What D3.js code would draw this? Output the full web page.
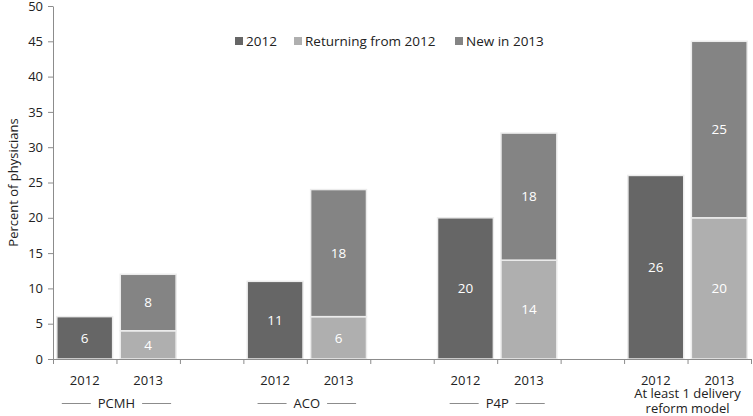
<!DOCTYPE html>
<html>
<head>
<meta charset="utf-8">
<script src="https://cdn.jsdelivr.net/npm/d3@7/dist/d3.min.js"></script>
<style>
  body { margin: 0; background: #fff; }
  text { font-family: "Open Sans", sans-serif; }
</style>
</head>
<body>
<script>
// DATA
var groups = ["PCMH", "ACO", "P4P", "At least 1 delivery reform model"];
var years = ["2012", "2013"];
var val2012 = [6, 11, 20, 26];
var returning = [4, 6, 14, 20];
var newIn2013 = [8, 18, 18, 25];
var yTicks = [0, 5, 10, 15, 20, 25, 30, 35, 40, 45, 50];
var legendLabels = ["2012", "Returning from 2012", "New in 2013"];

var w = 753, h = 416;
var margin = {top: 6, right: 2, bottom: 57, left: 53};

var col2012 = "#666666", colRet = "#afafaf", colNew = "#848484";

var svg = d3.select("body").append("svg")
  .attr("width", w)
  .attr("height", h);

// slots: 2012, 2013, gap for each group (no trailing gap)
var slots = [];
groups.forEach(function(g, i) {
  slots.push(i + "-2012");
  slots.push(i + "-2013");
  if (i < groups.length - 1) slots.push(i + "-gap");
});

var x = d3.scaleBand()
  .domain(slots)
  .range([margin.left, w - margin.right])
  .paddingInner(0.12)
  .paddingOuter(0.06);

var xEdge = d3.scaleLinear()
  .domain([0, slots.length])
  .range([margin.left, w - margin.right]);

var y = d3.scaleLinear()
  .domain([0, 50])
  .range([h - margin.bottom, margin.top]);

// Y AXIS
var yAxis = svg.append("g")
  .attr("transform", "translate(" + margin.left + ",0)")
  .call(d3.axisLeft(y).tickValues(yTicks).tickSize(5).tickSizeOuter(0));
yAxis.select(".domain").attr("stroke", "#8c8c8c");
yAxis.selectAll(".tick line").attr("stroke", "#8c8c8c");
yAxis.selectAll(".tick text")
  .attr("x", -10)
  .attr("fill", "#222")
  .style("font-size", "13px");

svg.append("text")
  .attr("transform", "translate(13," + y(25) + ") rotate(-90)")
  .attr("text-anchor", "middle")
  .attr("dy", "0.35em")
  .attr("fill", "#222")
  .style("font-size", "13px")
  .text("Percent of physicians");

// BARS
var segs = [];
groups.forEach(function(g, i) {
  segs.push({slot: i + "-2012", y0: 0, y1: val2012[i], v: val2012[i], c: col2012});
  segs.push({slot: i + "-2013", y0: 0, y1: returning[i], v: returning[i], c: colRet});
  segs.push({slot: i + "-2013", y0: returning[i], y1: returning[i] + newIn2013[i], v: newIn2013[i], c: colNew});
});

svg.append("g").selectAll("rect")
  .data(segs)
  .enter().append("rect")
  .attr("x", function(d) { return x(d.slot); })
  .attr("y", function(d) { return y(d.y1); })
  .attr("width", x.bandwidth())
  .attr("height", function(d) { return y(d.y0) - y(d.y1); })
  .attr("fill", function(d) { return d.c; })
  .attr("stroke", "#ececec")
  .attr("stroke-width", 1.5);

svg.append("g").selectAll("text")
  .data(segs)
  .enter().append("text")
  .attr("x", function(d) { return x(d.slot) + x.bandwidth() / 2; })
  .attr("y", function(d) { return (y(d.y0) + y(d.y1)) / 2; })
  .attr("dy", "0.36em")
  .attr("text-anchor", "middle")
  .attr("fill", "#fff")
  .style("font-size", "13.5px")
  .text(function(d) { return d.v; });

// X AXIS
var xAxis = svg.append("g")
  .attr("transform", "translate(0," + y(0) + ")")
  .call(d3.axisBottom(xEdge).tickValues(d3.range(0, slots.length + 1)).tickFormat("").tickSize(5).tickSizeOuter(0));
xAxis.select(".domain").attr("stroke", "#8c8c8c");
xAxis.selectAll(".tick line").attr("stroke", "#8c8c8c");

groups.forEach(function(g, i) {
  years.forEach(function(yr) {
    svg.append("text")
      .attr("x", x(i + "-" + yr) + x.bandwidth() / 2)
      .attr("y", y(0) + 26)
      .attr("text-anchor", "middle")
      .attr("fill", "#222")
      .style("font-size", "13px")
      .text(yr);
  });
});

// group labels with side lines
groups.forEach(function(g, i) {
  var cx = xEdge(i * 3 + 1);
  if (i < groups.length - 1) {
    var t = svg.append("text")
      .attr("x", cx)
      .attr("y", y(0) + 49)
      .attr("text-anchor", "middle")
      .attr("fill", "#222")
      .style("font-size", "13px")
      .text(g);
    var bw = t.node().getComputedTextLength();
    var ly = y(0) + 44.5;
    svg.append("line")
      .attr("x1", cx - bw / 2 - 36).attr("x2", cx - bw / 2 - 7)
      .attr("y1", ly).attr("y2", ly)
      .attr("stroke", "#8c8c8c");
    svg.append("line")
      .attr("x1", cx + bw / 2 + 7).attr("x2", cx + bw / 2 + 36)
      .attr("y1", ly).attr("y2", ly)
      .attr("stroke", "#8c8c8c");
  } else {
    var words = ["At least 1 delivery", "reform model"];
    words.forEach(function(line, k) {
      svg.append("text")
        .attr("x", cx)
        .attr("y", y(0) + 39 + k * 15)
        .attr("text-anchor", "middle")
        .attr("fill", "#222")
        .style("font-size", "13px")
        .text(line);
    });
  }
});

// LEGEND
var legendX = [235, 294, 455];
var legendCols = [col2012, colRet, colNew];
var legend = svg.append("g");
legendLabels.forEach(function(l, i) {
  legend.append("rect")
    .attr("x", legendX[i])
    .attr("y", 37)
    .attr("width", 8)
    .attr("height", 8)
    .attr("fill", legendCols[i]);
  legend.append("text")
    .attr("x", legendX[i] + 11)
    .attr("y", 41)
    .attr("dy", "0.36em")
    .attr("fill", "#222")
    .style("font-size", "13.5px")
    .text(l);
});
</script>
</body>
</html>
